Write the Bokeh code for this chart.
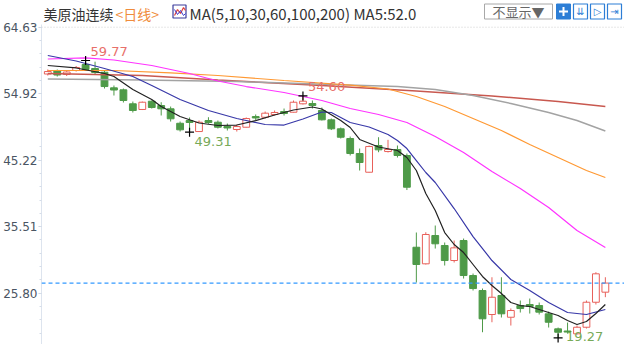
import numpy as np
from bokeh.plotting import figure
from bokeh.models import Range1d, FixedTicker, NumeralTickFormatter, Span, ColumnDataSource
from bokeh.core.properties import value
from bokeh.embed import file_html
from bokeh.resources import INLINE

# ---------------- data ----------------
opens = [57.80, 58.24, 57.73, 58.31, 59.19, 58.60, 58.06, 55.78, 55.49, 53.45,
         52.62, 53.83, 53.20, 52.72, 50.61, 51.01, 49.40, 51.01, 50.76, 50.13,
         49.70, 50.03, 51.59, 51.49, 51.89, 52.32, 52.22, 53.45, 53.49, 52.47,
         51.11, 49.80, 48.38, 46.19, 43.46, 47.36, 46.48, 46.78, 45.90, 32.51,
         30.09, 34.22, 32.76, 30.57, 33.49, 28.38, 26.19, 22.69, 25.46, 22.29,
         24.00, 24.15, 24.00, 22.79, 20.60, 20.28, 19.87, 20.83, 24.48, 25.95]
highs = [58.46, 58.46, 58.31, 58.97, 59.77, 59.60, 58.31, 56.12, 55.68, 53.78,
         53.78, 53.93, 53.68, 53.05, 50.86, 51.45, 51.01, 51.49, 51.01, 50.57,
         50.43, 51.45, 51.89, 52.32, 52.47, 52.76, 53.93, 54.60, 53.93, 52.91,
         51.30, 49.99, 48.67, 46.92, 47.36, 48.57, 48.19, 47.36, 46.19, 34.66,
         34.70, 35.68, 33.20, 33.49, 33.78, 28.67, 26.48, 28.13, 28.13, 23.57,
         24.73, 25.02, 24.44, 23.12, 20.79, 21.52, 21.08, 24.73, 28.86, 28.13]
lows = [57.58, 57.43, 57.51, 58.16, 58.31, 57.73, 55.68, 54.66, 53.64, 52.18,
        52.54, 52.76, 51.74, 50.86, 49.40, 49.31, 49.33, 50.53, 49.84, 49.55,
        49.40, 49.99, 51.01, 51.30, 51.74, 51.74, 52.18, 53.35, 52.76, 51.01,
        49.62, 48.38, 45.90, 43.71, 43.42, 46.38, 46.34, 45.61, 40.86, 27.36,
        29.99, 32.32, 29.84, 30.28, 27.94, 26.19, 20.10, 21.56, 22.25, 21.08,
        22.98, 22.83, 22.69, 20.79, 19.27, 19.91, 19.77, 20.64, 24.15, 25.22]
closes = [58.16, 57.65, 58.09, 58.75, 58.46, 58.02, 55.97, 55.46, 53.93, 52.47,
          53.68, 52.91, 52.72, 51.26, 49.65, 50.72, 50.76, 50.72, 50.03, 49.92,
          50.13, 51.30, 51.38, 52.08, 52.18, 52.03, 53.68, 53.83, 53.20, 51.11,
          49.80, 48.57, 46.19, 44.88, 47.21, 46.73, 46.78, 45.90, 41.27, 29.99,
          34.37, 33.01, 30.57, 32.42, 28.38, 26.48, 22.06, 25.21, 22.79, 23.27,
          23.56, 23.86, 23.03, 21.56, 20.10, 20.13, 20.83, 24.48, 28.63, 27.28]

y_ticks = [25.80, 35.51, 45.22, 54.92, 64.63]

ma5_idx = [0, 3, 6, 7, 9, 11, 12, 14, 16, 18, 20, 22, 24, 26, 28, 29, 31, 32, 33, 35, 37, 38,
           39, 40, 41, 42, 43, 44, 45, 46, 47, 48, 49, 50, 51, 52, 53, 54, 55, 56, 57, 58, 59]
ma5_val = [59.04, 58.68, 57.87, 57.43, 55.54, 54.08, 53.05, 51.59, 50.65, 50.28, 50.35, 51.00,
           51.81, 52.54, 52.98, 52.69, 51.00, 49.99, 48.24, 47.14, 46.63, 45.61,
           43.71, 40.35, 37.87, 34.66, 32.91, 31.74, 29.99, 28.24, 26.92, 25.75, 24.44,
           24.00, 23.86, 23.42, 22.98, 22.54, 21.81, 21.23, 21.67, 22.83, 24.15]

ma10_idx = [0, 3, 6, 9, 11, 14, 17, 20, 23, 25, 27, 29, 30, 32, 34, 36, 37, 38, 39, 40, 41,
            43, 45, 47, 49, 51, 53, 55, 57, 59]
ma10_val = [60.50, 59.70, 58.60, 57.43, 56.12, 54.08, 52.47, 51.30, 50.43, 50.35, 51.23,
            52.25, 52.18, 50.72, 50.06, 48.97, 48.09, 46.92, 45.17, 43.42, 41.96,
            38.16, 34.07, 30.57, 27.80, 26.19, 24.44, 22.98, 22.69, 23.42]

ma30_idx = [0, 4, 7, 11, 15, 18, 21, 25, 29, 32, 35, 38, 41, 44, 47, 50, 53, 56, 59]
ma30_val = [59.99, 60.14, 59.84, 59.04, 57.87, 56.78, 55.97, 55.10, 53.93, 52.76, 51.89,
            50.72, 48.67, 46.34, 43.56, 41.08, 38.31, 34.95, 32.47]

ma60_idx = [0, 7, 13, 18, 25, 32, 36, 39, 42, 45, 48, 51, 54, 57, 59]
ma60_val = [58.31, 58.31, 57.95, 57.58, 56.85, 56.19, 55.61, 54.51, 53.05, 51.30, 49.55,
            47.51, 45.61, 43.71, 42.69]

ma100_idx = [0, 10, 20, 30, 37, 41, 45, 49, 53, 56, 59]
ma100_val = [57.07, 56.92, 56.70, 56.27, 55.97, 55.54, 54.66, 53.49, 52.18, 51.01, 49.48]

ma200_idx = [0, 10, 18, 29, 39, 47, 54, 59]
ma200_val = [57.87, 57.58, 56.92, 56.12, 55.32, 54.59, 53.78, 53.05]

mark_idx = [4, 27, 15, 54]
mark_side = ["high", "high", "low", "low"]

title_name = "美原油连续"
title_period = "<日线>"
title_ma = "MA(5,10,30,60,100,200) MA5:52.0"
hide_text = "不显示▼"

# ---------------- styling / layout helpers ----------------
RED = "#e8605a"
GREEN = "#4e9a48"
BLUE = "#2d7ed6"
label_dx = [5, 5, 5, 8]
label_dy = [-9, -9, 9, -1]


def px_x(px):
    return (px - 47.3) / 9.45


def px_y(py):
    return 68.53 - py / 6.85


def w_px(w):
    return w / 9.45


def h_px(h):
    return h / 6.85


p = figure(width=624, height=344, output_backend="svg", toolbar_location=None,
           x_range=Range1d(px_x(41), px_x(624)), y_range=Range1d(px_y(344), px_y(0)),
           x_axis_type=None, min_border_left=41, min_border_right=0,
           min_border_top=0, min_border_bottom=0)
p.outline_line_color = None
p.grid.visible = False
p.background_fill_color = "white"

yax = p.yaxis[0]
step = (y_ticks[1] - y_ticks[0]) / 5
minor = [y_ticks[0] + k * step for k in range(-4, 21)]
yax.ticker = FixedTicker(ticks=y_ticks, minor_ticks=minor)
yax.formatter = NumeralTickFormatter(format="0.00")
yax.major_label_text_font = "DejaVu Sans"
yax.major_label_text_font_size = "12px"
yax.major_label_text_color = "#4a5563"
yax.major_label_standoff = 1
yax.major_tick_in = 0
yax.major_tick_out = 3
yax.minor_tick_in = 0
yax.minor_tick_out = 2
yax.major_tick_line_color = "#c9d3e0"
yax.minor_tick_line_color = "#d5dde8"
yax.axis_line_color = "#dde4ee"
yax.bounds = (px_y(344), px_y(24))

# top dotted guide at the highest tick
p.add_layout(Span(location=y_ticks[-1], dimension="width", line_color="#d0d0d0",
                  line_dash="1 2", line_width=1))

# ---------------- candles ----------------
o = np.array(opens)
h = np.array(highs)
l = np.array(lows)
c = np.array(closes)
idx = np.arange(len(o))
up = c >= o


def cs(mask):
    return ColumnDataSource(dict(x=idx[mask], top=np.maximum(o, c)[mask],
                                 bottom=np.minimum(o, c)[mask], high=h[mask], low=l[mask]))


up_src = cs(up)
dn_src = cs(~up)
p.segment(x0="x", y0="high", x1="x", y1="low", source=up_src, line_color=RED, line_width=1)
p.segment(x0="x", y0="high", x1="x", y1="low", source=dn_src, line_color=GREEN, line_width=1)
p.vbar(x="x", width=0.72, top="top", bottom="bottom", source=up_src,
       fill_color="white", line_color=RED, line_width=1)
p.vbar(x="x", width=0.72, top="top", bottom="bottom", source=dn_src,
       fill_color=GREEN, line_color=GREEN, line_width=1)

# ---------------- moving averages ----------------
p.line(ma200_idx, ma200_val, line_color="#c8584f", line_width=1.5)
p.line(ma100_idx, ma100_val, line_color="#a3a3a3", line_width=1.5)
p.line(ma60_idx, ma60_val, line_color="#ff9933", line_width=1.2)
p.line(ma30_idx, ma30_val, line_color="#ff33ff", line_width=1.2)
p.line(ma10_idx, ma10_val, line_color="#3838a8", line_width=1.2)
p.line(ma5_idx, ma5_val, line_color="#222222", line_width=1.2)

# last price dashed line
p.add_layout(Span(location=closes[-1], dimension="width", line_color="#3399ff",
                  line_dash="4 3", line_width=1.2))

# ---------------- extreme markers ----------------
mx = list(mark_idx)
my = [highs[i] if s == "high" else lows[i] for i, s in zip(mark_idx, mark_side)]
p.scatter(mx, my, marker="cross", size=9, line_color="black", line_width=1.2)
for xi, yi, s, dx, dy in zip(mx, my, mark_side, label_dx, label_dy):
    col = "#e8706a" if s == "high" else "#78aa58"
    p.text(x=[xi], y=[yi], text=["%.2f" % yi], x_offset=dx, y_offset=dy,
           text_align="left", text_baseline="middle", text_font=value("DejaVu Sans"),
           text_font_size="13px", text_color=col)

# ---------------- header ----------------
HY = px_y(13)
BY = px_y(11)
p.text(x=[px_x(43)], y=[HY], text=[title_name], text_font=value("Noto Sans CJK SC"),
       text_font_size="14px", text_color="#333333", text_baseline="middle", text_align="left")
p.text(x=[px_x(115)], y=[HY], text=[title_period], text_font=value("Noto Sans CJK SC"),
       text_font_size="14px", text_color="#f08c3c", text_baseline="middle", text_align="left")
p.text(x=[px_x(189)], y=[HY], text=[title_ma], text_font=value("Noto Sans CJK SC"),
       text_font_size="15px", text_color="#333333", text_baseline="middle", text_align="left")

# small indicator icon
p.rect(x=[px_x(179)], y=[BY], width=w_px(13), height=h_px(13), fill_color="white",
       line_color="#3c3c9c", line_width=1.2)
p.line(x=[px_x(x) for x in (174, 177, 180, 183, 185)], y=[px_y(y) for y in (15, 9, 13, 7, 10)],
       line_color="#e0403c", line_width=1.2)
p.line(x=[px_x(x) for x in (174, 177, 180, 183, 185)], y=[px_y(y) for y in (9, 14, 10, 15, 13)],
       line_color="#3c3cd0", line_width=1)

# "不显示" drop-down box
p.rect(x=[px_x(518)], y=[BY], width=w_px(68), height=h_px(15), fill_color="white",
       line_color="#a8a8a8", line_width=1)
p.text(x=[px_x(518)], y=[BY], text=[hide_text], text_font=value("Noto Sans CJK SC"),
       text_font_size="13px", text_color="#666666", text_baseline="middle", text_align="center")

# tool buttons
bx = [563, 580, 597, 614]
p.rect(x=[px_x(bx[0])], y=[BY], width=w_px(14), height=h_px(15), fill_color=BLUE,
       line_color=BLUE)
p.scatter(x=[px_x(bx[0])], y=[BY], marker="cross", size=9, line_color="white", line_width=2)
p.rect(x=[px_x(b) for b in bx[1:]], y=[BY] * 3, width=w_px(14), height=h_px(15),
       fill_color="white", line_color=BLUE, line_width=1.2)
p.text(x=[px_x(b) for b in bx[1:]], y=[BY] * 3, text=["⇊", "▷", "⇥"],
       text_font=value("DejaVu Sans"), text_font_size="10px", text_color=BLUE,
       text_baseline="middle", text_align="center")

open("out.html", "w").write(file_html(p, INLINE))
